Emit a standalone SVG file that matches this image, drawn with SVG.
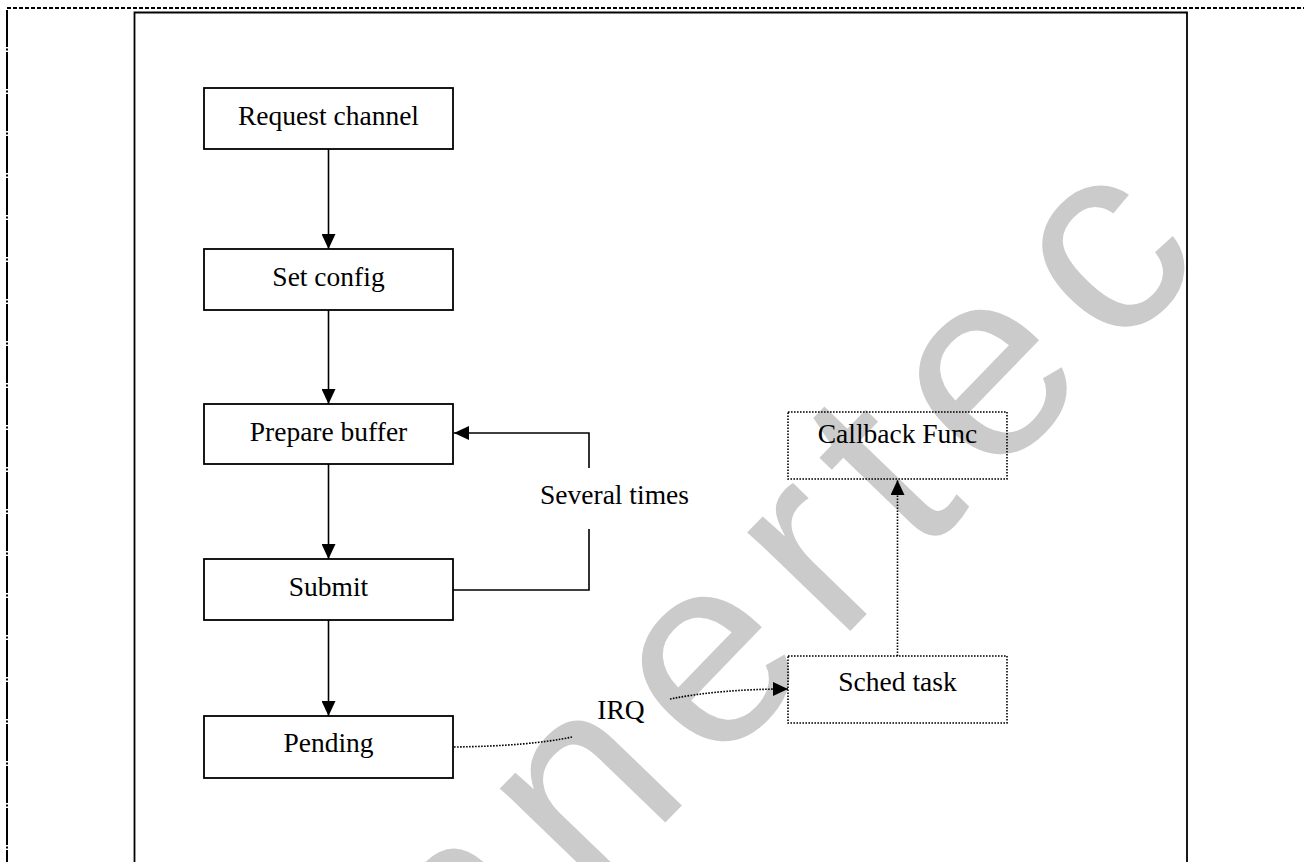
<svg xmlns="http://www.w3.org/2000/svg" width="1304" height="862" viewBox="0 0 1304 862">
  <style>
    .box { fill: none; stroke: #000; stroke-width: 1.8; }
    .dbox { fill: none; stroke: #000; stroke-width: 1.6; stroke-dasharray: 1.6 1.4; }
    .lbl { font-family: "Liberation Serif", "Times New Roman", serif; font-size: 27.5px; fill: #000; text-anchor: middle; }
    .edge { fill: none; stroke: #000; stroke-width: 1.6; }
    .dedge { fill: none; stroke: #000; stroke-width: 1.6; stroke-dasharray: 1.6 1.4; }
    .wm { font-family: "Liberation Sans", Arial, sans-serif; font-size: 270px; letter-spacing: 28px; fill: #cbcbcb; }
  </style>
  <defs>
    <marker id="ah" viewBox="0 0 10 10" refX="10" refY="5" markerWidth="15" markerHeight="14" markerUnits="userSpaceOnUse" orient="auto" preserveAspectRatio="none">
      <path d="M0,0 L10,5 L0,10 z" fill="#000"/>
    </marker>
    <clipPath id="frameclip"><rect x="135" y="13" width="1051" height="860"/></clipPath>
  </defs>
  <rect width="1304" height="862" fill="#fff"/>

  <!-- watermark -->
  <g id="watermark" clip-path="url(#frameclip)">
    <text class="wm" transform="translate(466,1029) rotate(-46)">nnertec</text>
  </g>

  <!-- page borders -->
  <g id="borders">
    <line x1="7" y1="8" x2="1304" y2="8" stroke="#000" stroke-width="2" stroke-dasharray="4 2"/>
    <line x1="7" y1="10" x2="7" y2="862" stroke="#000" stroke-width="2" stroke-dasharray="37 1.5 2 1.5"/>
    <path d="M134.5,870 V12.5 H1187 V870" fill="none" stroke="#000" stroke-width="1.8"/>
  </g>

  <!-- connectors -->
  <g id="connectors">
    <path class="edge" d="M328.5,149 V249" marker-end="url(#ah)"/>
    <path class="edge" d="M328.5,310 V404" marker-end="url(#ah)"/>
    <path class="edge" d="M328.5,464 V559" marker-end="url(#ah)"/>
    <path class="edge" d="M328.5,620 V716" marker-end="url(#ah)"/>
    <path class="edge" d="M453,590 H589 V529"/>
    <path class="edge" d="M589,468 V433 H454" marker-end="url(#ah)"/>
    <text class="lbl" x="614.5" y="504">Several times</text>
    <path class="dedge" d="M454,747 Q530,746 572,737"/>
    <path class="dedge" d="M670,699 Q720,689 788,689" marker-end="url(#ah)"/>
    <text class="lbl" x="621" y="719">IRQ</text>
    <path class="dedge" d="M897.5,656 V480" marker-end="url(#ah)"/>
  </g>

  <!-- nodes -->
  <g id="n-request">
    <rect class="box" x="204" y="88" width="249" height="61"/>
    <text class="lbl" x="328.5" y="125">Request channel</text>
  </g>
  <g id="n-setconfig">
    <rect class="box" x="204" y="249" width="249" height="61"/>
    <text class="lbl" x="328.5" y="286">Set config</text>
  </g>
  <g id="n-prepare">
    <rect class="box" x="204" y="404" width="249" height="60"/>
    <text class="lbl" x="328.5" y="441">Prepare buffer</text>
  </g>
  <g id="n-submit">
    <rect class="box" x="204" y="559" width="249" height="61"/>
    <text class="lbl" x="328.5" y="596">Submit</text>
  </g>
  <g id="n-pending">
    <rect class="box" x="204" y="716" width="249" height="62"/>
    <text class="lbl" x="328.5" y="752">Pending</text>
  </g>
  <g id="n-callback">
    <rect class="dbox" x="788" y="412" width="219" height="67"/>
    <text class="lbl" x="897.5" y="443">Callback Func</text>
  </g>
  <g id="n-sched">
    <rect class="dbox" x="788" y="656" width="219" height="67"/>
    <text class="lbl" x="897.5" y="691">Sched task</text>
  </g>
</svg>
